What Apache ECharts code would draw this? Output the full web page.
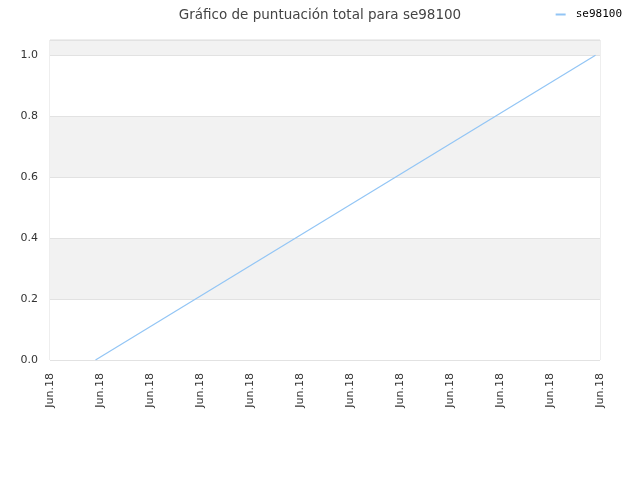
<!DOCTYPE html>
<html>
<head>
<meta charset="utf-8">
<script src="https://cdn.jsdelivr.net/npm/echarts@6/dist/echarts.min.js"></script>
<style>html,body{margin:0;padding:0;background:#fff}#chart{width:640px;height:480px}</style>
</head>
<body>
<div id="chart"></div>
<script>
var tickLabels = ['Jun.18','Jun.18','Jun.18','Jun.18','Jun.18','Jun.18','Jun.18','Jun.18','Jun.18','Jun.18','Jun.18','Jun.18'];
var seriesName = 'se98100';
var xPos = [0.91, 10.91];
var scores = [0, 1];

var myChart = echarts.init(document.getElementById('chart'));
myChart.setOption({
    animation: false,
    title: {
        text: 'Gráfico de puntuación total para ' + seriesName,
        left: 'center',
        top: 3,
        textStyle: { fontSize: 13.5, fontWeight: 'normal', color: '#444', fontFamily: 'DejaVu Sans' }
    },
    legend: {
        right: 13,
        top: 4,
        itemWidth: 10,
        itemHeight: 2,
        icon: 'rect',
        textStyle: { fontSize: 11, color: '#000', fontFamily: 'DejaVu Sans Mono', padding: [0, 0, 0, 5] },
        data: [seriesName]
    },
    grid: {
        left: 50, right: 40, top: 40, bottom: 120,
        show: true, borderColor: '#ddd', borderWidth: 1
    },
    xAxis: {
        type: 'value',
        min: 0, max: tickLabels.length - 1, interval: 1,
        axisLine: { show: false },
        axisTick: { show: false },
        splitLine: { show: false },
        axisLabel: {
            rotate: 90,
            fontSize: 11,
            color: '#333',
            fontFamily: 'DejaVu Sans',
            margin: 13,
            formatter: function (v) { return tickLabels[Math.round(v)]; }
        }
    },
    yAxis: {
        type: 'value',
        min: 0, max: 1.05, interval: 0.2,
        axisLine: { show: false },
        axisTick: { show: false },
        splitLine: { show: true, lineStyle: { color: '#e2e2e2' } },
        splitArea: { show: true, areaStyle: { color: ['#ffffff', '#f2f2f2'] } },
        axisLabel: {
            fontSize: 11, color: '#333', fontFamily: 'DejaVu Sans', margin: 12,
            formatter: function (v) { return v > 1.01 ? '' : v.toFixed(1); }
        }
    },
    series: [{
        name: seriesName,
        type: 'line',
        symbol: 'none',
        lineStyle: { width: 1.2, color: '#92c5f5' },
        itemStyle: { color: '#92c5f5' },
        data: xPos.map(function (x, i) { return [x, scores[i]]; })
    }]
});
</script>
</body>
</html>
